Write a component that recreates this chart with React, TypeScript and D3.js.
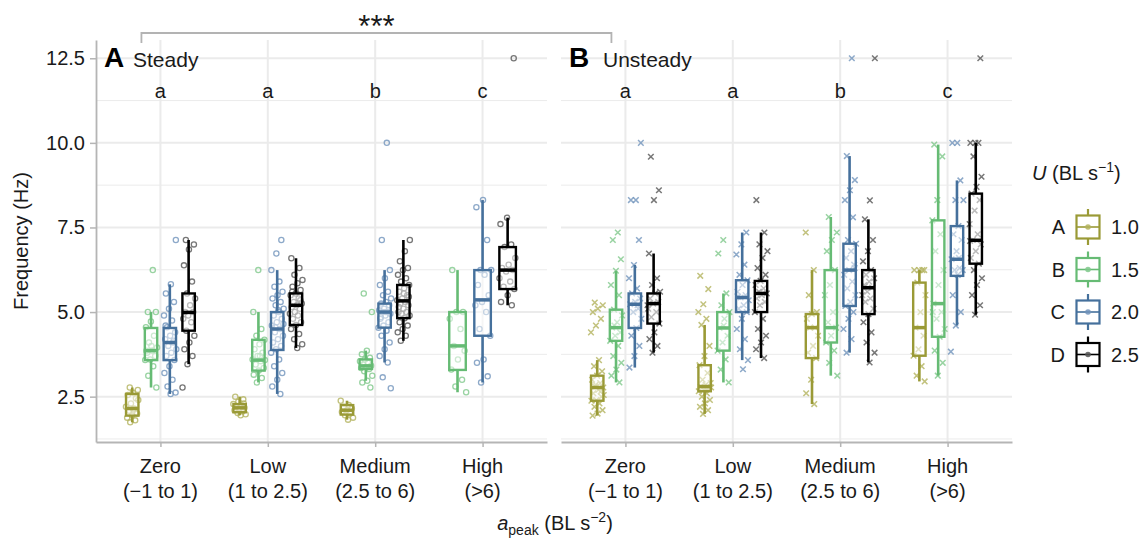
import React, { useRef, useEffect } from 'react';
import * as d3 from 'd3';

const categories = ['Zero', 'Low', 'Medium', 'High'];
const categoryRanges = ['(−1 to 1)', '(1 to 2.5)', '(2.5 to 6)', '(>6)'];
const speedKeys = ['A', 'B', 'C', 'D'];
const speedLabels = ['1.0', '1.5', '2.0', '2.5'];
const speedColors = ['#9a9a36', '#66bb74', '#45709c', '#000000'];
const pointColors = ['#b3b35e', '#7fc88b', '#7193bb', '#555555'];
const groupLetters = ['a', 'a', 'b', 'c'];
const yTicks = [2.5, 5, 7.5, 10, 12.5];

// [lower whisker, q1, median, q3, upper whisker] for speeds A-D, per category
const steadyBoxes = [
  [[1.74, 1.94, 2.15, 2.58, 2.77], [2.77, 3.58, 3.86, 4.53, 5.0], [2.58, 3.58, 4.1, 4.53, 5.82], [3.46, 4.45, 4.99, 5.55, 7.13]],
  [[1.95, 2.04, 2.17, 2.28, 2.5], [2.92, 3.27, 3.58, 4.18, 5.0], [2.58, 3.88, 4.5, 5.0, 6.24], [3.94, 4.62, 5.2, 5.55, 6.59]],
  [[1.82, 1.97, 2.1, 2.25, 2.38], [2.97, 3.32, 3.41, 3.6, 3.86], [3.51, 4.54, 5.0, 5.25, 6.24], [4.15, 4.82, 5.33, 5.8, 7.13]],
  [null, [2.63, 3.29, 4.0, 5.0, 6.24], [2.92, 4.3, 5.36, 6.24, 8.31], [5.2, 5.68, 6.24, 6.92, 7.79]],
];

const unsteadyBoxes = [
  [[1.94, 2.38, 2.77, 3.12, 3.58], [2.92, 4.15, 4.54, 5.07, 6.22], [3.36, 4.53, 5.23, 5.55, 6.39], [3.8, 4.66, 5.25, 5.55, 6.73]],
  [[1.99, 2.66, 2.8, 3.43, 4.62], [2.92, 3.86, 4.53, 5.0, 5.55], [3.58, 5.0, 5.43, 5.94, 7.35], [3.64, 5.0, 5.55, 5.92, 7.35]],
  [[2.28, 3.64, 4.54, 4.94, 6.24], [3.12, 4.1, 4.54, 6.24, 7.81], [3.8, 5.18, 6.24, 7.02, 9.61], [3.51, 4.94, 5.72, 6.24, 7.74]],
  [[2.95, 3.71, 4.54, 5.87, 6.24], [3.12, 4.27, 5.25, 7.71, 9.95], [4.6, 6.07, 6.56, 7.54, 8.89], [4.92, 6.43, 7.12, 8.5, 10.0]],
];

// observed frequencies (Hz), per category then speed
const steadyPoints = [
  [
    [2.77, 2.7, 2.62, 2.55, 2.45, 2.3, 2.2, 2.15, 2.08, 2.0, 1.94, 1.88, 1.8, 1.74, 2.4, 2.12],
    [6.24, 5.0, 5.0, 4.72, 4.55, 4.3, 4.1, 3.95, 3.86, 3.8, 3.7, 3.6, 3.58, 3.4, 3.12, 2.77, 4.0, 3.86],
    [7.13, 5.82, 5.55, 5.3, 5.1, 4.9, 4.75, 4.55, 4.4, 4.3, 4.2, 4.1, 4.0, 3.9, 3.8, 3.7, 3.58, 3.4, 3.2, 3.0, 2.8, 2.62, 2.58, 4.6, 4.15],
    [7.13, 7.0, 6.85, 6.38, 5.9, 5.55, 5.4, 5.2, 5.0, 5.0, 4.9, 4.8, 4.7, 4.45, 4.3, 4.1, 3.9, 3.7, 3.46, 2.77],
  ],
  [
    [2.5, 2.42, 2.35, 2.28, 2.24, 2.2, 2.17, 2.14, 2.1, 2.06, 2.02, 1.98, 1.95, 2.2, 2.3, 2.12],
    [6.24, 5.0, 4.5, 4.3, 4.18, 4.05, 3.9, 3.8, 3.7, 3.6, 3.55, 3.45, 3.35, 3.27, 3.15, 3.05, 2.92, 3.58, 3.7],
    [7.13, 6.73, 6.24, 5.9, 5.75, 5.6, 5.5, 5.4, 5.3, 5.2, 5.1, 5.0, 4.9, 4.8, 4.7, 4.6, 4.5, 4.4, 4.3, 4.2, 4.1, 4.0, 3.9, 3.8, 3.6, 3.4, 3.2, 3.0, 2.8, 2.58, 4.55, 4.65, 5.05],
    [6.59, 6.3, 6.1, 5.95, 5.85, 5.75, 5.65, 5.55, 5.5, 5.4, 5.3, 5.25, 5.2, 5.15, 5.1, 5.0, 4.95, 4.9, 4.8, 4.7, 4.62, 4.5, 4.35, 4.2, 4.05, 3.94, 5.6, 5.35],
  ],
  [
    [2.38, 2.25, 2.2, 2.15, 2.1, 2.05, 2.0, 1.95, 1.88, 1.82],
    [5.55, 5.0, 3.86, 3.75, 3.65, 3.6, 3.55, 3.5, 3.45, 3.41, 3.38, 3.35, 3.32, 3.25, 3.12, 2.97, 2.92, 2.77],
    [10.0, 7.13, 6.24, 6.0, 5.8, 5.6, 5.5, 5.4, 5.3, 5.25, 5.2, 5.1, 5.05, 5.0, 5.0, 4.95, 4.9, 4.8, 4.7, 4.6, 4.54, 4.45, 4.3, 4.1, 3.9, 3.7, 3.51, 3.07, 2.75, 5.0, 4.85],
    [7.13, 6.8, 6.5, 6.3, 6.24, 6.1, 6.0, 5.9, 5.8, 5.7, 5.6, 5.5, 5.4, 5.35, 5.3, 5.25, 5.2, 5.1, 5.0, 5.0, 4.95, 4.9, 4.82, 4.7, 4.6, 4.5, 4.4, 4.3, 4.15, 5.45, 5.55, 5.15],
  ],
  [
    [],
    [6.24, 5.0, 5.0, 4.8, 4.5, 4.0, 3.86, 3.6, 3.3, 3.0, 2.8, 2.63],
    [8.31, 8.1, 7.13, 6.24, 6.24, 6.1, 5.8, 5.5, 5.3, 5.2, 5.0, 4.5, 4.3, 3.6, 3.5, 3.1, 2.92],
    [12.5, 7.79, 7.6, 7.0, 6.92, 6.6, 6.4, 6.3, 6.24, 6.2, 6.0, 5.9, 5.75, 5.68, 5.5, 5.3, 5.2],
  ],
];

const unsteadyPoints = [
  [
    [5.28, 5.2, 5.1, 5.0, 4.8, 4.6, 4.4, 3.58, 3.4, 3.25, 3.12, 3.0, 2.9, 2.8, 2.77, 2.7, 2.6, 2.5, 2.4, 2.38, 2.3, 2.2, 2.1, 2.0, 1.94, 2.65, 2.85, 2.55],
    [7.35, 7.13, 6.56, 6.22, 5.8, 5.5, 5.07, 4.9, 4.7, 4.54, 4.4, 4.3, 4.15, 4.0, 3.7, 3.5, 3.3, 3.12, 2.92, 4.6],
    [10.0, 8.31, 8.31, 7.13, 6.39, 6.0, 5.7, 5.55, 5.4, 5.3, 5.23, 5.1, 5.0, 4.8, 4.53, 4.3, 4.0, 3.7, 3.36, 5.2],
    [9.59, 8.6, 8.31, 6.73, 6.0, 5.8, 5.6, 5.55, 5.4, 5.3, 5.25, 5.1, 5.0, 4.85, 4.66, 4.4, 4.2, 4.0, 3.8, 5.2],
  ],
  [
    [6.07, 5.68, 5.23, 5.0, 4.8, 4.62, 4.0, 3.7, 3.43, 3.2, 3.0, 2.9, 2.85, 2.8, 2.75, 2.7, 2.66, 2.6, 2.5, 2.4, 2.3, 2.2, 2.1, 1.99, 2.77, 2.72],
    [7.13, 6.73, 5.55, 5.2, 5.0, 4.8, 4.53, 4.3, 4.1, 3.86, 3.6, 3.3, 2.92, 4.6],
    [7.35, 7.0, 6.7, 6.4, 6.1, 5.94, 5.8, 5.6, 5.5, 5.43, 5.35, 5.2, 5.1, 5.0, 4.8, 4.5, 4.2, 3.9, 3.58, 3.31, 5.45],
    [8.31, 7.35, 7.0, 6.8, 6.6, 6.3, 6.1, 5.92, 5.8, 5.7, 5.6, 5.55, 5.5, 5.4, 5.3, 5.2, 5.0, 4.8, 4.5, 4.3, 4.1, 3.9, 3.64, 5.6],
  ],
  [
    [7.35, 6.24, 5.5, 5.0, 4.94, 4.8, 4.54, 4.54, 4.3, 4.0, 3.8, 3.64, 3.0, 2.6, 2.28],
    [7.81, 7.35, 7.13, 6.8, 6.24, 5.8, 5.5, 5.0, 4.7, 4.54, 4.3, 4.1, 3.86, 3.5, 3.12],
    [12.5, 9.61, 8.9, 8.6, 8.31, 7.8, 7.13, 7.02, 6.8, 6.6, 6.4, 6.24, 6.1, 5.9, 5.7, 5.5, 5.3, 5.18, 5.0, 4.8, 4.5, 4.2, 3.8, 6.3],
    [12.5, 8.3, 7.74, 7.13, 6.8, 6.5, 6.24, 6.1, 6.0, 5.9, 5.8, 5.72, 5.6, 5.5, 5.4, 5.3, 5.1, 4.94, 4.7, 4.4, 4.1, 3.8, 3.51, 5.75],
  ],
  [
    [6.24, 6.24, 6.24, 6.24, 5.87, 5.5, 5.0, 4.54, 4.3, 3.9, 3.71, 3.4, 3.12, 2.95],
    [9.95, 9.6, 8.31, 7.71, 7.3, 6.8, 6.24, 5.8, 5.25, 5.0, 4.8, 4.5, 4.27, 3.86, 3.5, 3.12, 5.0],
    [10.0, 10.0, 8.89, 8.31, 8.31, 7.54, 7.3, 7.13, 6.8, 6.56, 6.3, 6.24, 6.24, 6.1, 5.5, 5.0, 4.6, 3.83, 6.6],
    [12.5, 10.0, 10.0, 10.0, 9.6, 9.0, 8.7, 8.5, 8.31, 8.0, 7.6, 7.3, 7.13, 7.0, 6.8, 6.6, 6.43, 6.24, 6.0, 5.8, 5.5, 5.2, 4.92, 7.1],
  ],
];

const FONT = '"Liberation Sans", Arial, Helvetica, sans-serif';

const FrequencyChart = ({ width = 1148, height = 540 }) => {
  const ref = useRef();

  useEffect(() => {
    const svg = d3.select(ref.current);
    svg.selectAll('*').remove();
    svg.attr('font-family', FONT);

    const top = 40;
    const bottom = 442;
    const y = d3.scaleLinear().domain([1.16, 13.04]).range([bottom, top]);
    const minorTicks = yTicks.map(t => t - 1.25);
    const gridColor = '#ebebeb';
    const axisColor = '#b5b5b5';
    const textColor = '#1a1a1a';

    const panels = [
      { tag: 'A', title: 'Steady', left: 96, right: 547, boxes: steadyBoxes, points: steadyPoints, shape: 'circle', yAxis: true },
      { tag: 'B', title: 'Unsteady', left: 561, right: 1012, boxes: unsteadyBoxes, points: unsteadyPoints, shape: 'cross', yAxis: false },
    ];

    // deterministic jitter pattern
    const jit = i => ((i * 0.6180339887 + 0.31) % 1) - 0.5;

    const xScales = [];

    panels.forEach(p => {
      const x = d3.scalePoint().domain(categories).range([p.left, p.right]).padding(0.6);
      xScales.push(x);
      const g = svg.append('g');

      // grid
      minorTicks.forEach(t => {
        g.append('line').attr('x1', p.left).attr('x2', p.right)
          .attr('y1', y(t)).attr('y2', y(t))
          .attr('stroke', gridColor).attr('stroke-width', 1);
      });
      yTicks.forEach(t => {
        g.append('line').attr('x1', p.left).attr('x2', p.right)
          .attr('y1', y(t)).attr('y2', y(t))
          .attr('stroke', gridColor).attr('stroke-width', 2);
      });
      categories.forEach(c => {
        g.append('line').attr('x1', x(c)).attr('x2', x(c))
          .attr('y1', top).attr('y2', bottom)
          .attr('stroke', gridColor).attr('stroke-width', 2);
      });

      // x axis
      const xAxis = g.append('g').attr('transform', `translate(0,${bottom})`)
        .call(d3.axisBottom(x).tickSize(5).tickSizeOuter(0).tickFormat(() => ''));
      xAxis.select('.domain').attr('stroke', axisColor).attr('stroke-width', 1.8);
      xAxis.selectAll('.tick line').attr('stroke', axisColor).attr('stroke-width', 1.5);

      categories.forEach((c, i) => {
        const t = g.append('text').attr('text-anchor', 'middle')
          .attr('font-size', 20).attr('fill', textColor);
        t.append('tspan').attr('x', x(c)).attr('y', 473).text(c);
        t.append('tspan').attr('x', x(c)).attr('y', 498).text(categoryRanges[i]);

        g.append('text').attr('x', x(c)).attr('y', 98)
          .attr('text-anchor', 'middle').attr('font-size', 20).attr('fill', textColor)
          .text(groupLetters[i]);
      });

      // y axis
      if (p.yAxis) {
        const yAxis = g.append('g').attr('transform', `translate(${p.left},0)`)
          .call(d3.axisLeft(y).tickValues(yTicks).tickFormat(d3.format('.1f')).tickSize(6).tickSizeOuter(0));
        yAxis.select('.domain').attr('stroke', axisColor).attr('stroke-width', 1.8);
        yAxis.selectAll('.tick line').attr('stroke', axisColor).attr('stroke-width', 1.5);
        yAxis.selectAll('.tick text').attr('font-size', 20).attr('fill', textColor)
          .attr('font-family', FONT).attr('x', -11);
      }

      // panel label
      g.append('text').attr('x', p.left + 8).attr('y', 67)
        .attr('font-size', 28).attr('font-weight', 'bold').attr('fill', '#000').text(p.tag);
      g.append('text').attr('x', p.left + (p.tag === 'A' ? 37 : 42)).attr('y', 67)
        .attr('font-size', 21).attr('fill', textColor).text(p.title);

      // boxes and points
      categories.forEach((c, ci) => {
        const present = p.boxes[ci].map((b, si) => (b ? si : -1)).filter(si => si >= 0);
        const n = present.length;
        const slot = (0.7 * x.step()) / n;
        const bw = slot * 0.66;

        present.forEach((si, k) => {
          const cx = x(c) + (k - (n - 1) / 2) * slot;
          const [lo, q1, med, q3, hi] = p.boxes[ci][si];
          const col = speedColors[si];
          const pcol = pointColors[si];

          // points
          p.points[ci][si].forEach((v, i) => {
            const px = cx + jit(i + si * 7 + ci * 3) * bw * 1.05;
            const py = y(v);
            if (p.shape === 'circle') {
              g.append('circle').attr('cx', px).attr('cy', py).attr('r', 2.6)
                .attr('fill', 'none').attr('stroke', pcol).attr('stroke-width', 1.3)
                .attr('stroke-opacity', 0.8);
            } else {
              g.append('path')
                .attr('d', `M${px - 2.8},${py - 2.8}L${px + 2.8},${py + 2.8}M${px - 2.8},${py + 2.8}L${px + 2.8},${py - 2.8}`)
                .attr('stroke', pcol).attr('stroke-width', 1.5).attr('stroke-opacity', 0.8);
            }
          });

          // whiskers
          g.append('line').attr('x1', cx).attr('x2', cx).attr('y1', y(hi)).attr('y2', y(q3))
            .attr('stroke', col).attr('stroke-width', 2.6);
          g.append('line').attr('x1', cx).attr('x2', cx).attr('y1', y(q1)).attr('y2', y(lo))
            .attr('stroke', col).attr('stroke-width', 2.6);
          // box
          g.append('rect').attr('x', cx - bw / 2).attr('width', bw)
            .attr('y', y(q3)).attr('height', Math.max(1, y(q1) - y(q3)))
            .attr('fill', '#fff').attr('fill-opacity', 0.5)
            .attr('stroke', col).attr('stroke-width', 2.4);
          g.append('line').attr('x1', cx - bw / 2).attr('x2', cx + bw / 2)
            .attr('y1', y(med)).attr('y2', y(med))
            .attr('stroke', col).attr('stroke-width', 3.5);
        });
      });
    });

    // significance bracket between panels
    const bx1 = xScales[0]('Zero') - 19;
    const bx2 = xScales[1]('Zero') - 14;
    svg.append('path')
      .attr('d', `M${bx1},43V33H${bx2}V43`)
      .attr('fill', 'none').attr('stroke', '#b3b3b3').attr('stroke-width', 1.8);
    svg.append('text').attr('x', (bx1 + bx2) / 2).attr('y', 37)
      .attr('text-anchor', 'middle').attr('font-size', 31).attr('fill', textColor).text('***');

    // axis titles
    svg.append('text').attr('transform', `translate(28,${(top + bottom) / 2}) rotate(-90)`)
      .attr('text-anchor', 'middle').attr('font-size', 20).attr('fill', textColor)
      .text('Frequency (Hz)');

    const xt = svg.append('text').attr('x', 555).attr('y', 530)
      .attr('text-anchor', 'middle').attr('font-size', 20).attr('fill', textColor);
    xt.append('tspan').attr('font-style', 'italic').text('a');
    xt.append('tspan').attr('font-size', 14).attr('dy', 5).text('peak');
    xt.append('tspan').attr('dy', -5).text(' (BL s');
    xt.append('tspan').attr('font-size', 14).attr('dy', -8).text('−2');
    xt.append('tspan').attr('dy', 8).text(')');

    // legend
    const lt = svg.append('text').attr('x', 1032).attr('y', 180)
      .attr('font-size', 20).attr('fill', textColor);
    lt.append('tspan').attr('font-style', 'italic').text('U');
    lt.append('tspan').text(' (BL s');
    lt.append('tspan').attr('font-size', 14).attr('dy', -8).text('−1');
    lt.append('tspan').attr('dy', 8).text(')');

    speedKeys.forEach((k, i) => {
      const cy = 227 + i * 42.5;
      const kx = 1088;
      const col = speedColors[i];
      const lg = svg.append('g');
      lg.append('text').attr('x', 1065).attr('y', cy + 7).attr('text-anchor', 'end')
        .attr('font-size', 20).attr('fill', textColor).text(k);
      lg.append('line').attr('x1', kx).attr('x2', kx).attr('y1', cy - 18).attr('y2', cy + 18)
        .attr('stroke', col).attr('stroke-width', 2.2);
      lg.append('rect').attr('x', kx - 11.5).attr('y', cy - 11.5).attr('width', 23).attr('height', 23)
        .attr('fill', '#fff').attr('stroke', col).attr('stroke-width', 2.2);
      lg.append('line').attr('x1', kx - 11.5).attr('x2', kx + 11.5).attr('y1', cy).attr('y2', cy)
        .attr('stroke', col).attr('stroke-width', 1.6);
      lg.append('circle').attr('cx', kx).attr('cy', cy).attr('r', 2.8)
        .attr('fill', pointColors[i]).attr('fill-opacity', 0.85);
      lg.append('text').attr('x', 1111).attr('y', cy + 7)
        .attr('font-size', 20).attr('fill', textColor).text(speedLabels[i]);
    });
  }, [width, height]);

  return <svg ref={ref} width={width} height={height} style={{ position: 'absolute', left: 0, top: 0, background: '#fff' }} />;
};

export default function App() {
  return <FrequencyChart />;
}
